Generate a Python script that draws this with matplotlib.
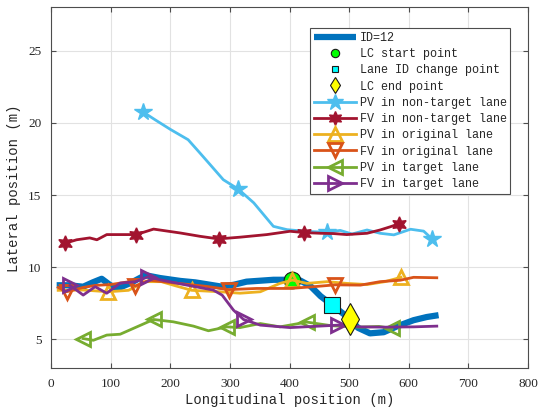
import numpy as np
import matplotlib
matplotlib.use('Agg')
import matplotlib.pyplot as plt
from matplotlib.lines import Line2D

# Lane change vehicle ID=12
ego_x = [9.5, 30, 54, 70, 85, 98, 110, 133, 158, 183, 217, 242, 284, 306, 328, 373, 396,
         404, 418, 435, 452, 471, 488, 502, 515, 535, 558, 580, 608, 630, 650]
ego_y = [8.75, 8.75, 8.65, 8.95, 9.2, 8.8, 8.5, 8.9, 9.45, 9.25, 9.05, 8.95, 8.67, 8.78, 9.0, 9.13, 9.13,
         9.12, 9.08, 8.7, 8.0, 7.4, 6.85, 6.4, 5.8, 5.42, 5.5, 5.9, 6.33, 6.55, 6.68]

# lane change events
lc_start = (404, 9.12)
lane_id_change = (471, 7.4)
lc_end = (502, 6.4)

# PV in non-target lane
pv_nt_x = [154, 175, 200, 230, 250, 267, 289, 314, 340, 373, 396, 429, 463, 485, 505, 530, 552, 575, 603, 625, 639]
pv_nt_y = [20.76, 20.2, 19.55, 18.83, 17.9, 17.1, 16.06, 15.41, 14.46, 12.83, 12.6, 12.48, 12.42, 12.55, 12.3, 12.58, 12.35, 12.24, 12.63, 12.5, 11.96]
pv_nt_marks = [0, 7, 12, 20]

# FV in non-target lane
fv_nt_x = [23.5, 43, 65, 77, 93.5, 116, 143, 172, 217, 250, 281, 317, 362, 401, 424, 452, 474, 496, 530, 552, 569, 583]
fv_nt_y = [11.66, 11.9, 12.03, 11.9, 12.26, 12.26, 12.26, 12.64, 12.37, 12.14, 11.96, 12.08, 12.26, 12.49, 12.4, 12.35, 12.33, 12.26, 12.35, 12.58, 12.8, 13.0]
fv_nt_marks = [0, 6, 10, 14, 21]

# PV in original lane
pv_o_x = [12, 54, 96, 130, 158, 185, 210, 236, 284, 317, 351, 384, 405, 429, 463, 496, 530, 560, 587]
pv_o_y = [8.4, 8.42, 8.3, 8.4, 9.0, 9.0, 8.7, 8.4, 8.3, 8.2, 8.3, 8.88, 9.11, 8.88, 9.0, 8.88, 8.8, 9.0, 9.3]
pv_o_marks = [2, 7, 12, 18]

# FV in original lane
fv_o_x = [12, 26, 54, 74, 100, 130, 141, 165, 220, 261, 298, 345, 401, 440, 477, 519, 552, 586, 608, 647]
fv_o_y = [8.6, 8.3, 8.6, 8.74, 8.8, 8.99, 8.7, 9.1, 8.85, 8.67, 8.45, 8.53, 8.53, 8.65, 8.78, 8.76, 9.0, 9.1, 9.3, 9.27]
fv_o_marks = [1, 6, 10, 14]

# PV in target lane
pv_t_x = [54, 71, 93.5, 116, 144, 172, 205, 239, 264, 295, 317, 351, 384, 429, 470, 520, 550, 572]
pv_t_y = [5.06, 4.94, 5.3, 5.36, 5.87, 6.38, 6.22, 5.92, 5.6, 5.87, 5.82, 6.1, 5.87, 6.2, 5.95, 5.85, 5.9, 5.76]
pv_t_marks = [0, 5, 9, 13, 17]

# FV in target lane
fv_t_x = [32, 54, 74, 93.5, 116, 141, 163, 183, 228, 272, 287, 306, 323, 351, 401, 440, 482, 519, 560, 608, 647]
fv_t_y = [8.74, 8.07, 8.65, 8.2, 8.9, 8.99, 9.34, 9.13, 8.76, 8.42, 8.07, 7.03, 6.38, 5.99, 5.82, 5.9, 5.99, 5.87, 5.85, 5.87, 5.92]
fv_t_marks = [0, 6, 12, 16]

c_blue = '#0072BD'
c_orange = '#D95319'
c_yellow = '#EDB120'
c_purple = '#7E2F8E'
c_green = '#77AC30'
c_lblue = '#4DBEEE'
c_red = '#A2142F'
hexagram = (6, 1, 0)

mono = 'Liberation Mono'
serif = 'Liberation Serif'
txt_col = '#262626'

fig = plt.figure(figsize=(5.4, 4.15), dpi=100)
ax = fig.add_axes([51 / 540, 1 - 368.3 / 415, 477 / 540, 361 / 415])

ax.plot(ego_x, ego_y, color=c_blue, lw=4.5, solid_capstyle='butt', zorder=2)
ax.plot(*lc_start, 'o', ms=12, mfc='#00FF00', mec='#1a1a1a', mew=0.8, zorder=2.5)

line_kw = dict(lw=2, zorder=3)
ax.plot(pv_nt_x, pv_nt_y, color=c_lblue, marker='*', ms=13, markevery=pv_nt_marks, **line_kw)
ax.plot(fv_nt_x, fv_nt_y, color=c_red, marker=hexagram, ms=11, markevery=fv_nt_marks, **line_kw)
ax.plot(pv_o_x, pv_o_y, color=c_yellow, marker='^', ms=10, mew=2, fillstyle='none', markevery=pv_o_marks, **line_kw)
ax.plot(fv_o_x, fv_o_y, color=c_orange, marker='v', ms=10, mew=2, fillstyle='none', markevery=fv_o_marks, **line_kw)
ax.plot(pv_t_x, pv_t_y, color=c_green, marker='<', ms=10, mew=2, fillstyle='none', markevery=pv_t_marks, **line_kw)
ax.plot(fv_t_x, fv_t_y, color=c_purple, marker='>', ms=10, mew=2, fillstyle='none', markevery=fv_t_marks, **line_kw)

ax.plot(*lane_id_change, 's', ms=11, mfc='#00FFFF', mec='#1a1a1a', mew=0.8, zorder=4)
ax.plot(*lc_end, 'd', ms=16, mfc='#FFFF00', mec='#1a1a1a', mew=0.8, zorder=4)

ax.set_xlim(0, 800)
ax.set_ylim(3, 28)
ax.set_xticks(np.arange(0, 801, 100))
ax.set_yticks([5, 10, 15, 20, 25])
ax.grid(True, color='#e2e2e2', lw=0.8)
ax.set_axisbelow(True)
ax.tick_params(direction='in', top=True, right=True, length=3.5, width=0.8,
               colors='#4d4d4d', labelcolor=txt_col, labelsize=9.5, pad=7)
for lab in ax.get_xticklabels() + ax.get_yticklabels():
    lab.set_fontfamily(serif)
for sp in ax.spines.values():
    sp.set_color('#4d4d4d')
    sp.set_linewidth(0.8)

ax.set_xlabel('Longitudinal position (m)', fontfamily=mono, fontsize=10, color=txt_col, labelpad=2)
ax.set_ylabel('Lateral position (m)', fontfamily=mono, fontsize=10, color=txt_col, labelpad=5)

# legend entries
handles = [
    Line2D([], [], color=c_blue, lw=4.5, solid_capstyle='butt'),
    Line2D([], [], ls='none', marker='o', ms=6, mfc='#00FF00', mec='#1a1a1a', mew=0.8),
    Line2D([], [], ls='none', marker='s', ms=5, mfc='#00FFFF', mec='#1a1a1a', mew=0.8),
    Line2D([], [], ls='none', marker='d', ms=8, mfc='#FFFF00', mec='#1a1a1a', mew=0.8),
    Line2D([], [], color=c_lblue, lw=2, marker='*', ms=12),
    Line2D([], [], color=c_red, lw=2, marker=hexagram, ms=10),
    Line2D([], [], color=c_yellow, lw=2, marker='^', ms=10, mew=2, fillstyle='none'),
    Line2D([], [], color=c_orange, lw=2, marker='v', ms=10, mew=2, fillstyle='none'),
    Line2D([], [], color=c_green, lw=2, marker='<', ms=10, mew=2, fillstyle='none'),
    Line2D([], [], color=c_purple, lw=2, marker='>', ms=10, mew=2, fillstyle='none'),
]
labels = ['ID=12', 'LC start point', 'Lane ID change point', 'LC end point',
          'PV in non-target lane', 'FV in non-target lane', 'PV in original lane',
          'FV in original lane', 'PV in target lane', 'FV in target lane']
leg = ax.legend(handles, labels, loc='upper right', bbox_to_anchor=(0.963, 0.942),
                borderaxespad=0, prop={'family': mono, 'size': 8.5}, handlelength=3.6,
                handletextpad=0.3, labelspacing=0.36, borderpad=0.3, fancybox=False,
                framealpha=1, edgecolor='#4d4d4d')
leg.get_frame().set_linewidth(0.8)
for t in leg.get_texts():
    t.set_color(txt_col)

fig.savefig('out.png', dpi=100)
